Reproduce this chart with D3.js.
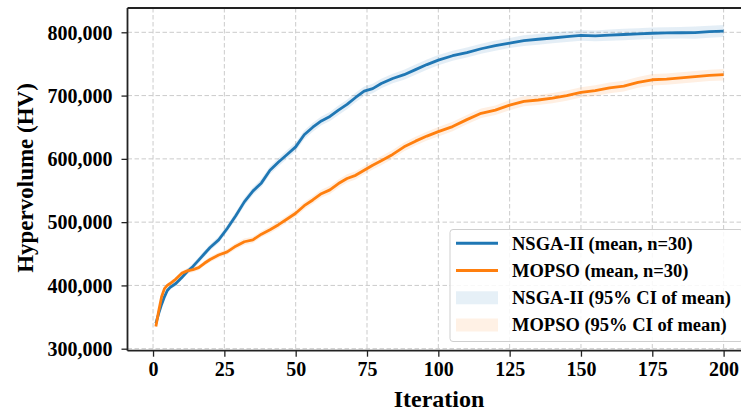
<!DOCTYPE html>
<html>
<head>
<meta charset="utf-8">
<script src="https://cdn.jsdelivr.net/npm/d3@7"></script>
<style>
  html, body { margin: 0; padding: 0; background: #fff; }
  svg { display: block; font-family: "Liberation Serif", "Times New Roman", serif; font-weight: bold; }
</style>
</head>
<body>
<svg id="chart" width="741" height="414"></svg>
<script>
// Iterations at which the run averages were recorded
const iterations = [1, 2, 3, 4, 5, 6, 8, 10, 12, 14, 16, 18, 20, 23, 26, 29, 32, 35, 38, 41, 44, 47, 50,
  53, 56, 59, 62, 65, 68, 71, 74, 77, 80, 84, 88, 92, 96, 100, 105, 110, 115, 120, 125, 130, 135,
  140, 145, 150, 155, 160, 165, 170, 175, 180, 185, 190, 195, 200];

// Mean hypervolume over 30 runs
const nsgaMean = [340000, 356000, 370000, 382000, 392000, 397000, 403000, 412000, 422000, 430000, 440000,
  450000, 460000, 472000, 490000, 510000, 532000, 549000, 562000, 582000, 595000, 607000, 619000,
  638000, 650000, 660000, 667000, 677000, 686000, 697000, 707000, 711000, 719000, 727000, 733000,
  741000, 749000, 756000, 763000, 768000, 774000, 779000, 783000, 787000, 789000, 791000, 793000,
  795000, 794500, 795500, 796500, 797500, 798500, 799000, 799300, 799500, 801000, 802000];
const mopsoMean = [335000, 360000, 382000, 395000, 400000, 403000, 410000, 419000, 423000, 425000, 428000,
  435000, 441000, 448000, 453000, 462000, 469000, 472000, 481000, 488000, 496000, 505000, 514000,
  526000, 535000, 545000, 551000, 561000, 569000, 574000, 582000, 590000, 597000, 607000, 619000,
  628000, 636000, 643000, 651000, 662000, 672000, 677000, 685000, 691000, 693000, 696000, 700000,
  705000, 708000, 712000, 715000, 721000, 725000, 726000, 728000, 730000, 732000, 733000];

// Half-width of the 95% confidence interval of the mean
const nsgaHalfCI = [2000, 2500, 3000, 3000, 3500, 3500, 4000, 4000, 4500, 4500, 5000, 5000, 5000, 5500,
  5500, 6000, 6000, 6000, 6500, 6500, 6500, 7000, 7000, 7000, 7000, 7000, 7000, 7500, 7500, 7500,
  7500, 7500, 7500, 7500, 8000, 8000, 8000, 8000, 8000, 8000, 8000, 8000, 8000, 8500, 8500, 8500,
  8500, 8500, 8500, 9000, 9000, 9000, 9000, 9000, 9000, 9500, 9500, 9500];
const mopsoHalfCI = [2000, 2500, 3000, 3000, 3000, 3500, 3500, 3500, 4000, 4000, 4000, 4000, 4500, 4500,
  4500, 5000, 5000, 5000, 5000, 5500, 5500, 5500, 6000, 6000, 6000, 6000, 6500, 6500, 6500, 6500,
  6500, 7000, 7000, 7000, 7000, 7000, 7000, 7500, 7500, 7500, 7500, 7500, 8000, 8000, 8000, 8000,
  8000, 8000, 8500, 8500, 8500, 8500, 9000, 9000, 9000, 9000, 9000, 9000];

const xTicks = [0, 25, 50, 75, 100, 125, 150, 175, 200];
const yTicks = [300000, 400000, 500000, 600000, 700000, 800000];

const seriesInfo = [
  { name: "NSGA-II", mean: nsgaMean, half: nsgaHalfCI, color: "#1f77b4" },
  { name: "MOPSO", mean: mopsoMean, half: mopsoHalfCI, color: "#ff7f0e" }
];

const svg = d3.select("#chart");
const plot = { left: 127.5, top: 8, right: 752, bottom: 350.7 };

const x = d3.scaleLinear().domain([-8.95, 209.95]).range([plot.left, plot.right]);
const y = d3.scaleLinear().domain([296840, 838400]).range([plot.bottom, plot.top]);

// Dashed grid
const grid = svg.append("g").attr("stroke", "#cbcbcb").attr("stroke-width", 1)
  .attr("stroke-dasharray", "4.5,2.5");
grid.selectAll("line.gx").data(xTicks).join("line")
  .attr("x1", d => x(d)).attr("x2", d => x(d))
  .attr("y1", plot.top).attr("y2", plot.bottom);
grid.selectAll("line.gy").data(yTicks).join("line")
  .attr("x1", plot.left).attr("x2", plot.right)
  .attr("y1", d => y(d)).attr("y2", d => y(d));

// Confidence bands
const area = d3.area()
  .x((d, i) => x(iterations[i]))
  .y0(d => y(d.lo))
  .y1(d => y(d.hi));
seriesInfo.forEach(s => {
  const band = s.mean.map((m, i) => ({ lo: m - s.half[i], hi: m + s.half[i] }));
  svg.append("path").datum(band)
    .attr("d", area)
    .attr("fill", s.color).attr("fill-opacity", 0.12).attr("stroke", "none");
});

// Mean lines
const line = d3.line().x((d, i) => x(iterations[i])).y(d => y(d));
seriesInfo.forEach(s => {
  svg.append("path").datum(s.mean)
    .attr("d", line)
    .attr("fill", "none").attr("stroke", s.color).attr("stroke-width", 2.8)
    .attr("stroke-linejoin", "round").attr("stroke-linecap", "butt");
});

// Axes
const xAxis = svg.append("g").attr("transform", `translate(0,${plot.bottom})`)
  .call(d3.axisBottom(x).tickValues(xTicks).tickFormat(d3.format("d")).tickSize(6).tickPadding(5));
const yAxis = svg.append("g").attr("transform", `translate(${plot.left},0)`)
  .call(d3.axisLeft(y).tickValues(yTicks).tickFormat(d3.format(",")).tickSize(6).tickPadding(9));
[xAxis, yAxis].forEach(a => {
  a.select(".domain").remove();
  a.selectAll(".tick line").attr("stroke", "#222").attr("stroke-width", 1.3);
  a.selectAll(".tick text").attr("fill", "#000").style("font-size", "20px")
    .style("font-family", "'Liberation Serif', 'Times New Roman', serif").style("font-weight", "bold");
});
yAxis.selectAll(".tick text").attr("dy", "0.34em");

// Spines: left, bottom and top
const spines = svg.append("g").attr("stroke", "#222").attr("stroke-width", 1.8);
spines.append("line").attr("x1", plot.left).attr("x2", plot.left).attr("y1", plot.top).attr("y2", plot.bottom);
spines.append("line").attr("x1", plot.left).attr("x2", plot.right).attr("y1", plot.bottom).attr("y2", plot.bottom);
spines.append("line").attr("x1", plot.left).attr("x2", plot.right).attr("y1", plot.top).attr("y2", plot.top);

// Axis titles
svg.append("text")
  .attr("x", 439).attr("y", 407)
  .attr("text-anchor", "middle").attr("fill", "#000")
  .style("font-size", "24px")
  .text("Iteration");
svg.append("text")
  .attr("transform", "translate(25,178) rotate(-90)")
  .attr("text-anchor", "middle").attr("dy", "0.35em").attr("fill", "#000")
  .style("font-size", "23px")
  .text("Hypervolume (HV)");

// Legend
const legendItems = [
  { label: "NSGA-II (mean, n=30)", kind: "line", color: "#1f77b4" },
  { label: "MOPSO (mean, n=30)", kind: "line", color: "#ff7f0e" },
  { label: "NSGA-II (95% CI of mean)", kind: "patch", color: "#1f77b4" },
  { label: "MOPSO (95% CI of mean)", kind: "patch", color: "#ff7f0e" }
];
const legend = svg.append("g");
legend.append("rect")
  .attr("x", 450).attr("y", 229.5).attr("width", 293).attr("height", 112)
  .attr("rx", 3).attr("fill", "#fff").attr("fill-opacity", 0.85)
  .attr("stroke", "#cfcfcf").attr("stroke-width", 1);
const rowY = d3.scalePoint().domain(d3.range(legendItems.length)).range([243.3, 325]);
legendItems.forEach((it, i) => {
  const cy = rowY(i);
  if (it.kind === "line") {
    legend.append("line").attr("x1", 456).attr("x2", 498).attr("y1", cy).attr("y2", cy)
      .attr("stroke", it.color).attr("stroke-width", 3);
  } else {
    legend.append("rect").attr("x", 456).attr("y", cy - 6.5).attr("width", 42).attr("height", 13)
      .attr("fill", it.color).attr("fill-opacity", 0.11);
  }
  legend.append("text").attr("x", 512).attr("y", cy).attr("dy", "0.34em")
    .attr("fill", "#000").style("font-size", "18.5px").text(it.label);
});
</script>
</body>
</html>
